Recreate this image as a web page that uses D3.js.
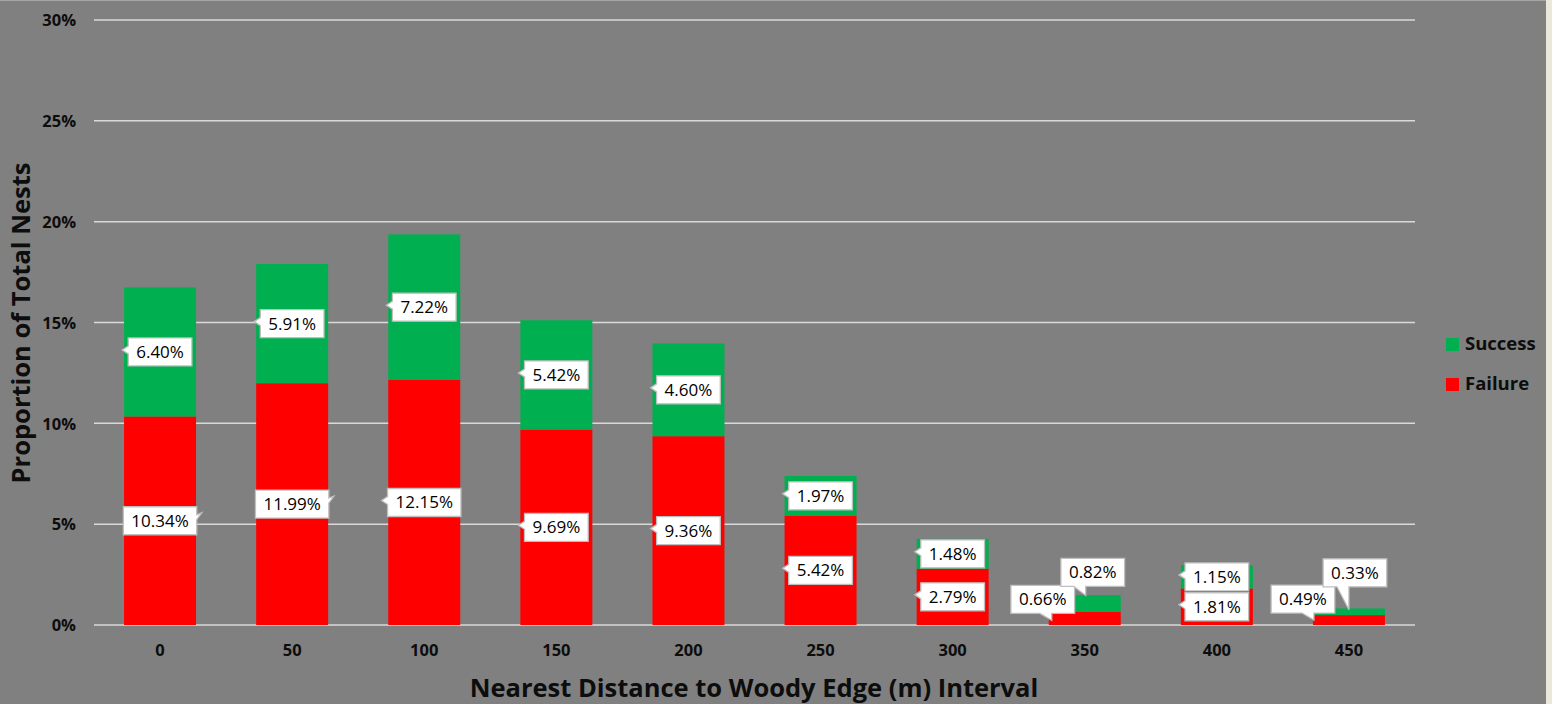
<!DOCTYPE html>
<html>
<head>
<meta charset="utf-8">
<script src="https://cdn.jsdelivr.net/npm/d3@7"></script>
<style>
  html, body { margin: 0; padding: 0; background: #ebe7da; }
  svg { display: block; }
</style>
</head>
<body>
<svg id="chart" width="1552" height="704"></svg>
<script>
// Distance intervals (m) and the share of all nests in each, split by outcome (%)
const categories = ["0", "50", "100", "150", "200", "250", "300", "350", "400", "450"];
const failure = [10.34, 11.99, 12.15, 9.69, 9.36, 5.42, 2.79, 0.66, 1.81, 0.49];
const success = [6.40, 5.91, 7.22, 5.42, 4.60, 1.97, 1.48, 0.82, 1.15, 0.33];
const yTicks = [0, 5, 10, 15, 20, 25, 30];
const seriesNames = ["Failure", "Success"];

// Callouts that are pulled off their segment: box shift and wedge tip, relative to the segment centre
const failureCallout = [null, null, null, null, null, null, null,
  { dx: -42, dy: -19, tx: -33, ty: 2 }, null,
  { dx: -46, dy: -21, tx: -35, ty: 0 }];
const successCallout = [null, null, null, null, null, null, null,
  { dx: 8, dy: -31, tx: 1, ty: -8 }, null,
  { dx: 6, dy: -39, tx: 0, ty: -2 }];
// Side of the small notch on callouts sitting over their own segment
const failureNotch = ["right", "right", "left", "left", "left", "left", "left", "left", "left", "left"];
const successNotch = ["left", "left", "left", "left", "left", "left", "left", "left", "left", "left"];

const colors = { Failure: "#ff0000", Success: "#00b050" };
const FONT = "'Open Sans', 'DejaVu Sans', sans-serif";

const svg = d3.select("#chart");
const W = 1546, H = 704;
const margin = { left: 94, right: W - 1415, top: 20, bottom: H - 625 };

// panel background
svg.append("rect").attr("x", 0).attr("y", 0).attr("width", W).attr("height", H).attr("fill", "#808080");
svg.append("line").attr("x1", 0).attr("x2", W).attr("y1", 0.5).attr("y2", 0.5)
  .attr("stroke", "#a6a6a6").attr("stroke-width", 1);

const x = d3.scaleBand()
  .domain(categories)
  .range([margin.left, W - margin.right])
  .paddingInner(0.455)
  .paddingOuter(0.2275);

const y = d3.scaleLinear()
  .domain([0, 30])
  .range([H - margin.bottom, margin.top]);

// gridlines
svg.append("g")
  .selectAll("line")
  .data(yTicks)
  .join("line")
  .attr("x1", margin.left)
  .attr("x2", W - margin.right)
  .attr("y1", d => y(d))
  .attr("y2", d => y(d))
  .attr("stroke", "#d9d9d9")
  .attr("stroke-width", 1.5);

// y axis labels
const yAxis = d3.axisLeft(y).tickValues(yTicks).tickFormat(d => d + "%").tickSize(0).tickPadding(0);
const gy = svg.append("g").attr("transform", `translate(${76},0)`).call(yAxis);
gy.select(".domain").remove();
gy.selectAll("text")
  .attr("font-family", FONT).attr("font-size", 16.5).attr("font-weight", "bold").attr("fill", "#0d0d0d")
  .attr("dy", "0.35em");

// x axis labels
const xAxis = d3.axisBottom(x).tickSize(0).tickPadding(0);
const gx = svg.append("g").attr("transform", `translate(0,${y(0)})`).call(xAxis);
gx.select(".domain").remove();
gx.selectAll("text")
  .attr("font-family", FONT).attr("font-size", 16.5).attr("font-weight", "bold").attr("fill", "#0d0d0d")
  .attr("y", 25).attr("dy", "0.35em");

// stacked bars
const rows = categories.map((c, i) => ({ category: c, Failure: failure[i], Success: success[i] }));
const stacked = d3.stack().keys(seriesNames)(rows);

svg.append("g")
  .selectAll("g")
  .data(stacked)
  .join("g")
  .attr("fill", d => colors[d.key])
  .selectAll("rect")
  .data(d => d)
  .join("rect")
  .attr("x", d => x(d.data.category))
  .attr("width", x.bandwidth())
  .attr("y", d => y(d[1]))
  .attr("height", d => y(d[0]) - y(d[1]));

// callout labels
const labelLayer = svg.append("g");
const BOX_H = 28, PAD = 8;

function calloutPath(x0, y0, x1, y1, tip, notch) {
  const yc = (y0 + y1) / 2;
  if (tip) {
    // wedge on the bottom edge toward the tip
    const bc = Math.max(x0 + 8, Math.min(x1 - 8, tip[0] - 6));
    return `M${x0},${y0}H${x1}V${y1}H${bc + 6}L${tip[0]},${tip[1]}L${bc - 6},${y1}H${x0}Z`;
  }
  if (notch === "right") {
    return `M${x0},${y0}H${x1}V${yc - 6}L${x1 + 5},${yc - 8}L${x1},${yc - 1}V${y1}H${x0}Z`;
  }
  return `M${x0},${y0}H${x1}V${y1}H${x0}V${yc + 2}L${x0 - 6},${yc - 2}L${x0},${yc - 6}Z`;
}

stacked.forEach(layer => {
  const isFail = layer.key === "Failure";
  const values = isFail ? failure : success;
  const shifts = isFail ? failureCallout : successCallout;
  const notches = isFail ? failureNotch : successNotch;
  layer.forEach((d, i) => {
    const ax = x(d.data.category) + x.bandwidth() / 2;
    const ay = y((d[0] + d[1]) / 2);
    const s = shifts[i];
    const cx = ax + (s ? s.dx : 0);
    const cy = ay + (s ? s.dy : 0);
    const g = labelLayer.append("g");
    const path = g.append("path");
    const t = g.append("text")
      .attr("x", cx).attr("y", cy).attr("dy", "0.35em")
      .attr("text-anchor", "middle")
      .attr("font-family", FONT).attr("font-size", 17)
      .attr("fill", "#000")
      .text(values[i].toFixed(2) + "%");
    const tw = t.node().getComputedTextLength();
    const x0 = cx - tw / 2 - PAD, x1 = cx + tw / 2 + PAD;
    const y0 = cy - BOX_H / 2, y1 = cy + BOX_H / 2;
    path.attr("d", calloutPath(x0, y0, x1, y1, s ? [ax + s.tx, ay + s.ty] : null, notches[i]))
      .attr("fill", "#ffffff")
      .attr("stroke", "#bfbfbf")
      .attr("stroke-width", 1.3);
  });
});

// legend
const legend = svg.append("g").attr("transform", "translate(1446,0)");
const legendItems = ["Success", "Failure"];
legendItems.forEach((name, i) => {
  const cy = 344 + i * 40;
  legend.append("rect").attr("x", 0).attr("y", cy - 6).attr("width", 13).attr("height", 13)
    .attr("fill", colors[name]);
  legend.append("text").attr("x", 19).attr("y", cy).attr("dy", "0.35em")
    .attr("font-family", FONT).attr("font-size", 18.5).attr("font-weight", "bold").attr("fill", "#0d0d0d")
    .text(name);
});

// axis titles
svg.append("text")
  .attr("transform", `translate(21,${323}) rotate(-90)`)
  .attr("text-anchor", "middle").attr("dy", "0.35em")
  .attr("font-family", FONT).attr("font-size", 25.5).attr("font-weight", "bold").attr("fill", "#0d0d0d")
  .text("Proportion of Total Nests");

svg.append("text")
  .attr("x", 754).attr("y", 688).attr("dy", "0.35em")
  .attr("text-anchor", "middle")
  .attr("font-family", FONT).attr("font-size", 25.5).attr("font-weight", "bold").attr("fill", "#0d0d0d")
  .text("Nearest Distance to Woody Edge (m) Interval");
</script>
</body>
</html>
